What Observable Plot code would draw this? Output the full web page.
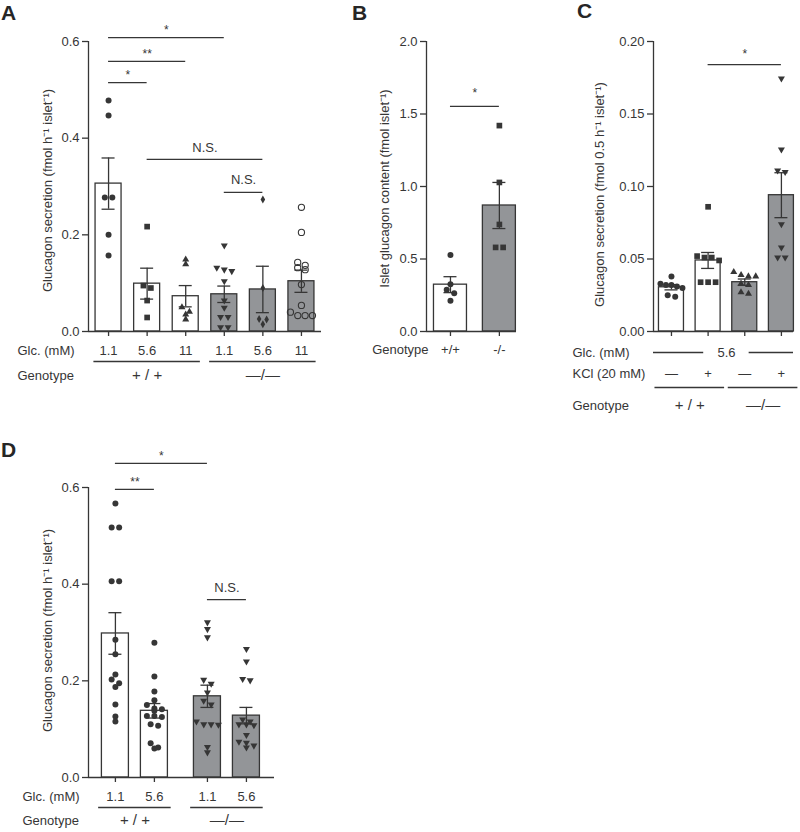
<!DOCTYPE html>
<html><head><meta charset="utf-8">
<script src="https://cdn.jsdelivr.net/npm/d3@7"></script>
<script src="https://cdn.jsdelivr.net/npm/@observablehq/plot@0.6"></script>
<style>
html,body{margin:0;padding:0;background:#fff;}
#fig{position:relative;width:800px;height:832px;overflow:hidden;font-family:"Liberation Sans",Arial,Helvetica,sans-serif;color:#333;}
.panel{position:absolute;}
.panel svg{display:block;max-width:none;background:transparent;}
.letter{position:absolute;font-weight:bold;font-size:21px;line-height:21px;color:#262626;}
</style></head><body><div id="fig"></div>
<script>
// ---------------- Panel A ----------------
const aGlc = ["1.1","5.6","11","1.1","5.6","11"];
const aGenotype = ["+ / +","+ / +","+ / +","—/—","—/—","—/—"];
const aMean = [0.306, 0.099, 0.073, 0.077, 0.087, 0.104];
const aSem = [0.053, 0.032, 0.022, 0.017, 0.048, 0.023];
const aPoints = [
  [0.478, 0.447, 0.277, 0.277, 0.200, 0.157],
  [0.217, 0.095, 0.090, 0.064, 0.029],
  [0.149, 0.139, 0.050, 0.041, 0.035, 0.025],
  [0.178, 0.132, 0.128, 0.125, 0.104, 0.064, 0.049, 0.030, 0.030, 0.009, 0.009],
  [0.273, 0.090, 0.026, 0.025, 0.015],
  [0.257, 0.205, 0.143, 0.137, 0.132, 0.128, 0.097, 0.054, 0.033, 0.033, 0.033, 0.040]
];
const aSymbols = ["circle","square","triangle","triangle-down","diamond","circle-open"];
const aSig = [
  {from:0, to:3, y:0.608, label:"*"},
  {from:0, to:2, y:0.559, label:"**"},
  {from:0, to:1, y:0.515, label:"*"},
  {from:1, to:4, y:0.356, label:"N.S."},
  {from:3, to:4, y:0.288, label:"N.S."}
];
const aTitle = "Glucagon secretion (fmol h⁻¹ islet⁻¹)";

// ---------------- Panel B ----------------
const bGenotype = ["+/+","-/-"];
const bMean = [0.323, 0.869];
const bSem = [0.055, 0.159];
const bPoints = [
  [0.528, 0.326, 0.288, 0.264, 0.212],
  [1.420, 1.028, 0.738, 0.580, 0.580]
];
const bSymbols = ["circle","square"];
const bSig = [{from:0, to:1, y:1.552, label:"*"}];
const bTitle = "Islet glucagon content (fmol islet⁻¹)";

// ---------------- Panel C ----------------
const cGlc = "5.6";
const cKCl = ["—","+","—","+"];
const cGenotype = ["+ / +","+ / +","—/—","—/—"];
const cMean = [0.0305, 0.049, 0.034, 0.094];
const cSem = [0.0018, 0.0055, 0.0022, 0.0155];
const cPoints = [
  [0.038, 0.033, 0.032, 0.032, 0.031, 0.030, 0.025, 0.024],
  [0.086, 0.052, 0.051, 0.051, 0.049, 0.034, 0.034, 0.034],
  [0.041, 0.039, 0.038, 0.038, 0.033, 0.032, 0.027, 0.026],
  [0.1745, 0.1255, 0.111, 0.110, 0.074, 0.058, 0.051, 0.051]
];
const cSymbols = ["circle","square","triangle","triangle-down"];
const cSig = [{from:1, to:3, y:0.184, label:"*"}];
const cTitle = "Glucagon secretion (fmol 0.5 h⁻¹ islet⁻¹)";

// ---------------- Panel D ----------------
const dGlc = ["1.1","5.6","1.1","5.6"];
const dGenotype = ["+ / +","+ / +","—/—","—/—"];
const dMean = [0.298, 0.138, 0.168, 0.128];
const dSem = [0.043, 0.015, 0.023, 0.017];
const dPoints = [
  [0.567, 0.517, 0.517, 0.406, 0.406, 0.285, 0.255, 0.213, 0.203, 0.195, 0.187, 0.151, 0.126, 0.116],
  [0.279, 0.209, 0.178, 0.160, 0.150, 0.143, 0.141, 0.138, 0.127, 0.125, 0.127, 0.110, 0.107, 0.071, 0.060, 0.062],
  [0.321, 0.307, 0.290, 0.202, 0.194, 0.176, 0.159, 0.151, 0.116, 0.110, 0.109, 0.110, 0.063, 0.052],
  [0.266, 0.240, 0.204, 0.201, 0.120, 0.110, 0.108, 0.110, 0.116, 0.088, 0.072, 0.062, 0.066, 0.074]
];
const dSymbols = ["circle","circle","triangle-down","triangle-down"];
const dSig = [
  {from:0, to:2, y:0.650, label:"*"},
  {from:0, to:1, y:0.596, label:"**"},
  {from:2, to:3, y:0.368, label:"N.S."}
];
const dTitle = "Glucagon secretion (fmol h⁻¹ islet⁻¹)";

// ---------------- drawing ----------------
const INK = "#363636", GRAY = "#939598";
const FONT = '"Liberation Sans", Arial, Helvetica, sans-serif';
const fig = document.getElementById("fig");

function symbolStyle(name) {
  switch (name) {
    case "circle": return {symbol: "circle", r: 3, fill: INK};
    case "circle-open": return {symbol: "circle", r: 3.1, fill: "none", stroke: INK, strokeWidth: 1.1};
    case "square": return {symbol: "square", r: 3.2, fill: INK};
    case "triangle": return {symbol: "triangle", r: 2.6, fill: INK};
    case "triangle-down": return {symbol: "triangle", r: 2.6, fill: INK, rotate: 180};
    case "diamond": return {symbol: "diamond", r: 2.4, fill: INK};
  }
}

function spread(vals, valPx, unitPx) {
  const order = d3.range(vals.length).sort((a, b) => vals[b] - vals[a]);
  const off = vals.map(() => 0);
  for (let i = 0; i < order.length;) {
    let j = i + 1;
    while (j < order.length && (vals[order[i]] - vals[order[j]]) * valPx < 4.5) j++;
    const k = j - i, step = k > 1 ? Math.min(7.5, 22 / (k - 1)) : 0;
    for (let m = 0; m < k; m++) off[order[i + m]] = (m - (k - 1) / 2) * step / unitPx;
    i = j;
  }
  return off;
}

function groupsOf(genos, pos) {
  const out = [];
  genos.forEach((g, i) => {
    let o = out.find(d => d.label === g);
    if (!o) { o = {label: g, xs: []}; out.push(o); }
    o.xs.push(pos[i]);
  });
  return out.map(o => ({label: o.label, lo: d3.min(o.xs), hi: d3.max(o.xs), mid: d3.mean(o.xs)}));
}

function drawPanel(cfg) {
  const {left, top, width, height, m, xDomain, pos, yMax, yTicks, yFmt, mean, sem, genos,
         points, symbols, sig, title, titleDx, titleDy, barHalfPx, starDy, extra} = cfg;
  const unitPx = (width - m[3] - m[1]) / (xDomain[1] - xDomain[0]);
  const valPx = (height - m[0] - m[2]) / yMax;
  const hw = barHalfPx / unitPx, cap = 6.5 / unitPx;
  const geno = groupsOf(genos, pos);
  const bars = mean.map((v, i) => ({x: pos[i], mean: v, lo: v - sem[i], hi: v + sem[i], wt: genos[i] === geno[0].label}));
  const dotMarks = points.map((vals, g) => {
    const off = spread(vals, valPx, unitPx);
    const data = vals.map((v, k) => ({x: pos[g] + off[k], y: v}));
    return Plot.dot(data, {x: "x", y: "y", ...symbolStyle(symbols[g])});
  });
  const stars = sig.filter(d => d.label !== "N.S."), ns = sig.filter(d => d.label === "N.S.");
  const marks = [
    Plot.rectY(bars.filter(d => d.wt), {x1: d => d.x - hw, x2: d => d.x + hw, y1: () => 0, y2: "mean", fill: "#fff", stroke: INK, strokeWidth: 1.3}),
    Plot.rectY(bars.filter(d => !d.wt), {x1: d => d.x - hw, x2: d => d.x + hw, y1: () => 0, y2: "mean", fill: GRAY, stroke: INK, strokeWidth: 1.3}),
    ...dotMarks,
    Plot.ruleX(bars, {x: "x", y1: "lo", y2: "hi", stroke: INK, strokeWidth: 1.3}),
    Plot.ruleY(bars, {y: "hi", x1: d => d.x - cap, x2: d => d.x + cap, stroke: INK, strokeWidth: 1.3}),
    Plot.ruleY(bars, {y: "lo", x1: d => d.x - cap, x2: d => d.x + cap, stroke: INK, strokeWidth: 1.3}),
    Plot.ruleX([xDomain[0]], {stroke: INK, strokeWidth: 1.3}),
    Plot.ruleY([0], {stroke: INK, strokeWidth: 1.3}),
    Plot.axisY({ticks: yTicks, tickFormat: d3.format(yFmt), tickSize: 6, tickPadding: 3, fontSize: 13, label: null, strokeWidth: 1.3}),
    Plot.axisX({ticks: pos, tickSize: 5, tickFormat: () => "", label: null, strokeWidth: 1.3}),
    Plot.ruleY(sig, {y: "y", x1: d => pos[d.from], x2: d => pos[d.to], stroke: INK, strokeWidth: 1.3}),
    Plot.text(stars, {x: d => (pos[d.from] + pos[d.to]) / 2, y: "y", text: "label", dy: starDy, fontSize: 12, fill: INK}),
    Plot.text(ns, {x: d => (pos[d.from] + pos[d.to]) / 2, y: "y", text: "label", dy: -12, fontSize: 13, fill: INK}),
    Plot.text([title], {frameAnchor: "left", rotate: -90, text: d => d, textAnchor: "middle", lineAnchor: "middle", dx: titleDx, dy: titleDy, fontSize: 13, fill: INK}),
    ...extra(pos, geno, xDomain)
  ];
  const svg = Plot.plot({
    width, height, marginTop: m[0], marginRight: m[1], marginBottom: m[2], marginLeft: m[3],
    x: {type: "linear", domain: xDomain},
    y: {type: "linear", domain: [0, yMax]},
    style: {fontFamily: FONT, fontSize: "13px", color: INK, background: "transparent"},
    marks
  });
  const div = document.createElement("div");
  div.className = "panel";
  div.style.left = left + "px"; div.style.top = top + "px"; div.style.width = width + "px";
  div.appendChild(svg);
  fig.appendChild(div);
}

const rowText = (items, dy, fs = 13) => Plot.text(items, {x: "x", y: () => 0, text: "t", dy, fontSize: fs, fill: INK, textAnchor: "middle", lineAnchor: "middle"});
const leftLabel = (label, dx, dy, anchor = "start") => Plot.text([label], {frameAnchor: "bottom-left", text: d => d, textAnchor: anchor, lineAnchor: "middle", dx, dy, fontSize: 13, fill: INK});
const groupLines = (geno, dy, ext) => Plot.ruleY(geno, {y: () => 0, x1: d => d.lo - ext, x2: d => d.hi + ext, dy, stroke: INK, strokeWidth: 1.3});

// Panel A
drawPanel({
  left: 0, top: 0, width: 330, height: 400, m: [41, 9, 69, 88],
  xDomain: [-0.52, 5.52], pos: aGlc.map((_, i) => i),
  yMax: 0.6, yTicks: [0, 0.2, 0.4, 0.6], yFmt: ".1f",
  mean: aMean, sem: aSem, genos: aGenotype, points: aPoints, symbols: aSymbols, sig: aSig,
  title: aTitle, titleDx: -41, titleDy: 4, barHalfPx: 13, starDy: -7,
  extra: (pos, geno) => [
    rowText(aGlc.map((t, i) => ({x: pos[i], t})), 19),
    groupLines(geno, 30, 0.38),
    rowText(geno.map(g => ({x: g.mid, t: g.label})), 44, 15),
    leftLabel("Glc. (mM)", -71, 19),
    leftLabel("Genotype", -71, 44)
  ]
});

// Panel B
drawPanel({
  left: 330, top: 0, width: 200, height: 400, m: [41, 14, 69, 96],
  xDomain: [-0.49, 1.35], pos: bGenotype.map((_, i) => i),
  yMax: 2, yTicks: [0, 0.5, 1, 1.5, 2], yFmt: ".1f",
  mean: bMean, sem: bSem, genos: bGenotype, points: bPoints, symbols: bSymbols, sig: bSig,
  title: bTitle, titleDx: -42, titleDy: 2, barHalfPx: 16.5, starDy: -13,
  extra: (pos) => [
    rowText(bGenotype.map((t, i) => ({x: pos[i], t})), 18),
    leftLabel("Genotype", 2, 18, "end")
  ]
});

// Panel C
drawPanel({
  left: 520, top: 0, width: 280, height: 420, m: [41, 7, 89, 133],
  xDomain: [-0.49, 3.33], pos: cKCl.map((_, i) => i),
  yMax: 0.2, yTicks: [0, 0.05, 0.1, 0.15, 0.2], yFmt: ".2f",
  mean: cMean, sem: cSem, genos: cGenotype, points: cPoints, symbols: cSymbols, sig: cSig,
  title: cTitle, titleDx: -54, titleDy: 8, barHalfPx: 12.5, starDy: -11,
  extra: (pos, geno, xd) => {
    const mid = d3.mean(pos);
    return [
      rowText([{x: mid, t: cGlc}], 21),
      Plot.ruleY([{a: xd[0], b: mid - 0.62}, {a: mid + 0.62, b: xd[1]}], {y: () => 0, x1: "a", x2: "b", dy: 21, stroke: INK, strokeWidth: 1.3}),
      rowText(cKCl.map((t, i) => ({x: pos[i], t})), 42),
      groupLines(geno, 56, 0.45),
      rowText(geno.map(g => ({x: g.mid, t: g.label})), 74, 15),
      leftLabel("Glc. (mM)", -81, 21),
      leftLabel("KCl (20 mM)", -81, 42),
      leftLabel("Genotype", -81, 74)
    ];
  }
});

// Panel D
const dGroupIndex = dGenotype.map(g => [...new Set(dGenotype)].indexOf(g));
drawPanel({
  left: 0, top: 420, width: 300, height: 412, m: [67, 26, 55, 88],
  xDomain: [-0.69, 4.08], pos: dGlc.map((_, i) => i + 0.36 * dGroupIndex[i]),
  yMax: 0.6, yTicks: [0, 0.2, 0.4, 0.6], yFmt: ".1f",
  mean: dMean, sem: dSem, genos: dGenotype, points: dPoints, symbols: dSymbols, sig: dSig,
  title: dTitle, titleDx: -41, titleDy: -2, barHalfPx: 13.5, starDy: -7,
  extra: (pos, geno) => [
    rowText(dGlc.map((t, i) => ({x: pos[i], t})), 19),
    groupLines(geno, 30, 0.43),
    rowText(geno.map(g => ({x: g.mid, t: g.label})), 43, 15),
    leftLabel("Glc. (mM)", -66, 19),
    leftLabel("Genotype", -66, 43)
  ]
});

// panel letters
[["A", 1, 2], ["B", 352, 2], ["C", 577, 0], ["D", 1, 439]].forEach(([t, x, y]) => {
  const el = document.createElement("div");
  el.className = "letter"; el.textContent = t;
  el.style.left = x + "px"; el.style.top = y + "px";
  fig.appendChild(el);
});
</script></body></html>
